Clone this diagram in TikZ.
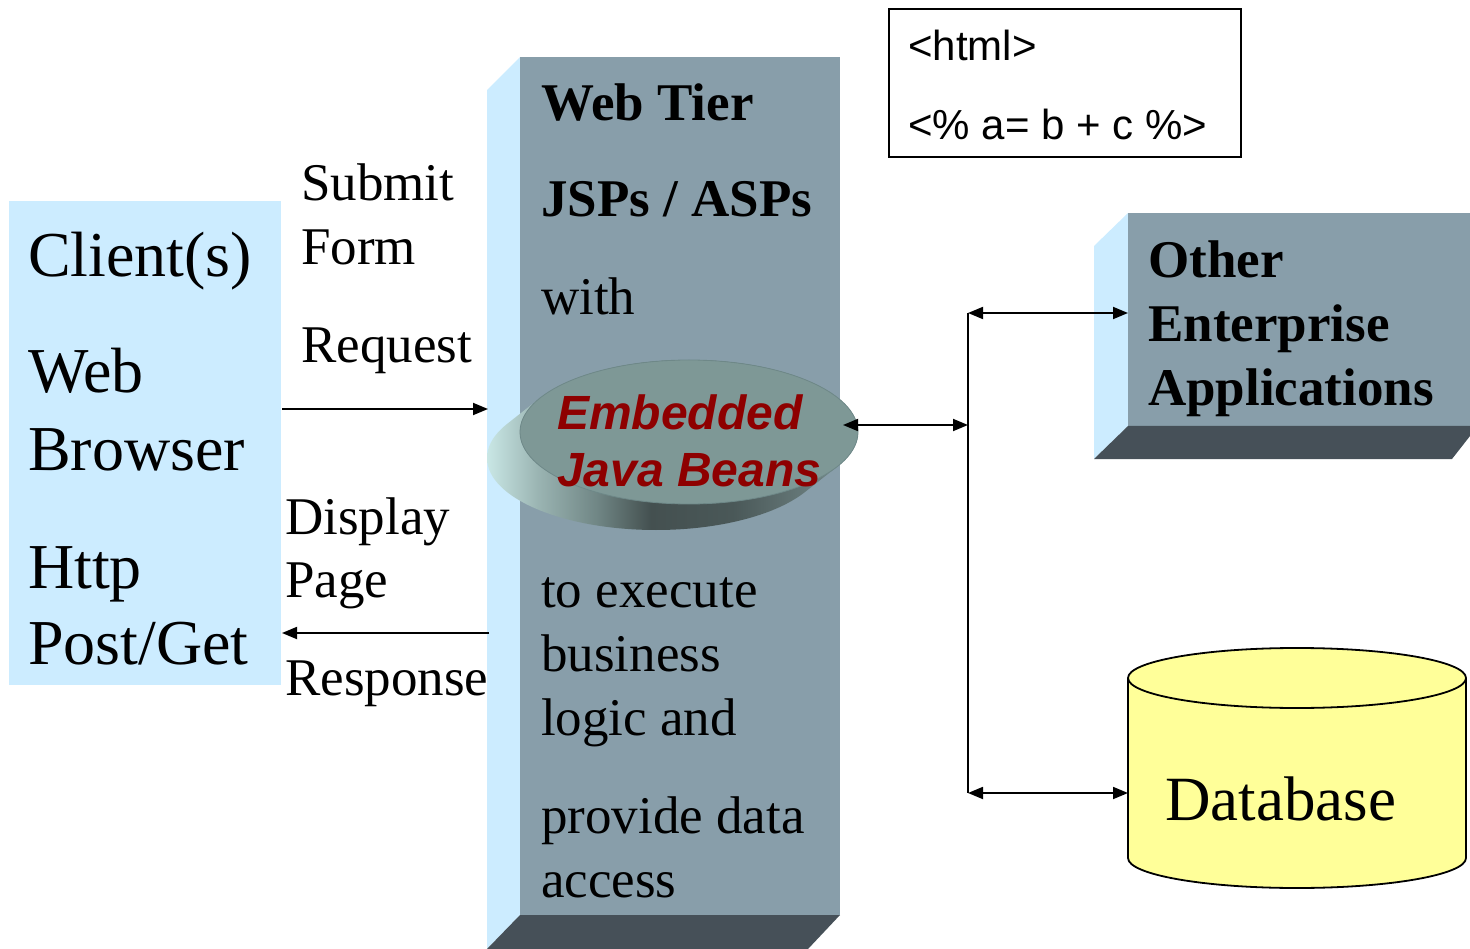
\documentclass[tikz,border=0pt]{standalone}
\usepackage{fontspec}
\setmainfont{Liberation Serif}
\newfontfamily\arialfont{Liberation Sans}
\usetikzlibrary{arrows.meta}
\definecolor{lightblue}{HTML}{CCECFF}
\definecolor{frontface}{HTML}{889EAA}
\definecolor{darkface}{HTML}{465058}
\definecolor{disctop}{HTML}{7E9896}
\definecolor{discrim}{HTML}{6E8888}
\definecolor{rimA}{HTML}{CAE8E6}
\definecolor{rimB}{HTML}{9AB4B2}
\definecolor{rimC}{HTML}{6F8584}
\definecolor{rimD}{HTML}{445050}
\definecolor{rimE}{HTML}{4A5858}
\definecolor{rimF}{HTML}{6C8080}
\definecolor{rimG}{HTML}{7A9090}
\definecolor{beanred}{HTML}{8E0000}
\definecolor{dbyellow}{HTML}{FFFF99}
\pgfdeclarehorizontalshading{rimshade}{100bp}{color(0bp)=(rimA); color(25bp)=(rimA); color(32bp)=(rimB); color(40bp)=(rimC); color(47bp)=(rimD); color(58bp)=(rimE); color(70bp)=(rimF); color(75bp)=(rimG); color(100bp)=(rimG)}
\tikzset{
  txt/.style={inner sep=0pt, anchor=base west, font=\fontsize{53}{60}\selectfont},
  btxt/.style={txt, font=\fontsize{53}{60}\selectfont\bfseries},
  ctxt/.style={txt, font=\fontsize{64}{70}\selectfont},
  htxt/.style={txt, font=\fontsize{42}{48}\selectfont\arialfont},
  beantxt/.style={txt, text=beanred, font=\fontsize{48}{54}\selectfont\arialfont\bfseries\itshape},
  conn/.style={line width=1.8pt, -{Triangle[length=15pt,width=12pt]}},
  dconn/.style={line width=1.8pt, {Triangle[length=15pt,width=12pt]}-{Triangle[length=15pt,width=12pt]}},
  plain/.style={line width=1.8pt}
}
\begin{document}
\begin{tikzpicture}[x=1pt,y=-1pt]
\useasboundingbox (0,0) rectangle (1470,949);
% client box
\fill[lightblue] (9,201) rectangle (281,685);
\node[ctxt] (client) at (28,277) {Client(s)};
\node[ctxt] (web) at (28,393) {Web};
\node[ctxt] (browser) at (28,470) {Browser};
\node[ctxt] (http) at (28,588) {Http};
\node[ctxt] (post) at (28,664) {Post/Get};
\coordinate (clientreq) at (282,409);
\coordinate (clientresp) at (282,633);
% web tier block
\fill[lightblue] (487,90) -- (520,57) -- (520,915) -- (487,949) -- cycle;
\fill[frontface] (520,57) rectangle (840,915);
\fill[darkface] (520,915) -- (840,915) -- (808,949) -- (487,949) -- cycle;
\coordinate (tierreq) at (488,409);
\coordinate (tierresp) at (489,633);
\node[btxt] (webtier) at (541,121) {Web Tier};
\node[btxt] (jsp) at (541,217) {JSPs / ASPs};
\node[txt] (with) at (541,315) {with};
\node[txt] (toexec) at (541,607) {to execute};
\node[txt] (business) at (541,671) {business};
\node[txt] (logic) at (541,735) {logic and};
\node[txt] (provide) at (541,833) {provide data};
\node[txt] (access) at (541,897) {access};
% disc: extruded rim
\begin{scope}
  \clip \foreach \t in {0,1,...,24}{ ({656+33*\t/24},{458-26*\t/24}) ellipse [x radius=169, y radius=72] };
  \shade[shading=rimshade] (486,350) rectangle (860,535);
\end{scope}
\filldraw[fill=disctop, draw=discrim, line width=0.8pt] (689,432) ellipse [x radius=169, y radius=72];
\coordinate (beans) at (843,425);
\node[beantxt] (emb) at (557,429) {Embedded};
\node[beantxt] (java) at (557,486) {Java Beans};
% client arrows
\draw[conn] (clientreq) -- (tierreq);
\draw[conn] (tierresp) -- (clientresp);
\node[txt] (submit) at (301,201) {Submit};
\node[txt] (form) at (301,265) {Form};
\node[txt] (request) at (301,363) {Request};
\node[txt] (display) at (285,534) {Display};
\node[txt] (page) at (285,597) {Page};
\node[txt] (response) at (285,695) {Response};
% html box
\draw[line width=1.8pt] (889,9) rectangle (1241,157);
\node[htxt] (html) at (908,61) {<html>};
\node[htxt] (code) at (908,140) {<\% a= b + c \%>};
% other enterprise block
\fill[lightblue] (1094,246) -- (1128,213) -- (1128,426) -- (1094,459) -- cycle;
\fill[frontface] (1128,213) rectangle (1470,426);
\fill[darkface] (1128,426) -- (1470,426) -- (1470,436) -- (1452,459) -- (1094,459) -- cycle;
\node[btxt] (other) at (1148,278) {Other};
\node[btxt] (enterprise) at (1148,342) {Enterprise};
\node[btxt] (apps) at (1148,406) {Applications};
% database
\filldraw[fill=dbyellow, draw=black, line width=1.8pt]
  (1128,678) -- (1128,858) arc[start angle=180, end angle=0, x radius=169, y radius=30]
  -- (1466,678) arc[start angle=0, end angle=-180, x radius=169, y radius=30] -- cycle;
\draw[line width=1.8pt] (1128,678) arc[start angle=180, end angle=0, x radius=169, y radius=30];
\node[txt, font=\fontsize{63}{70}\selectfont] (db) at (1165,820) {Database};
% right connectors
\coordinate (bus) at (968,425);
\coordinate (bustop) at (968,313);
\coordinate (busbot) at (968,793);
\coordinate (otherin) at (1128,313);
\coordinate (dbin) at (1128,793);
\draw[plain] (bustop) -- (busbot);
\draw[dconn] (beans) -- (bus);
\draw[dconn] (bustop) -- (otherin);
\draw[dconn] (busbot) -- (dbin);
\end{tikzpicture}
\end{document}
